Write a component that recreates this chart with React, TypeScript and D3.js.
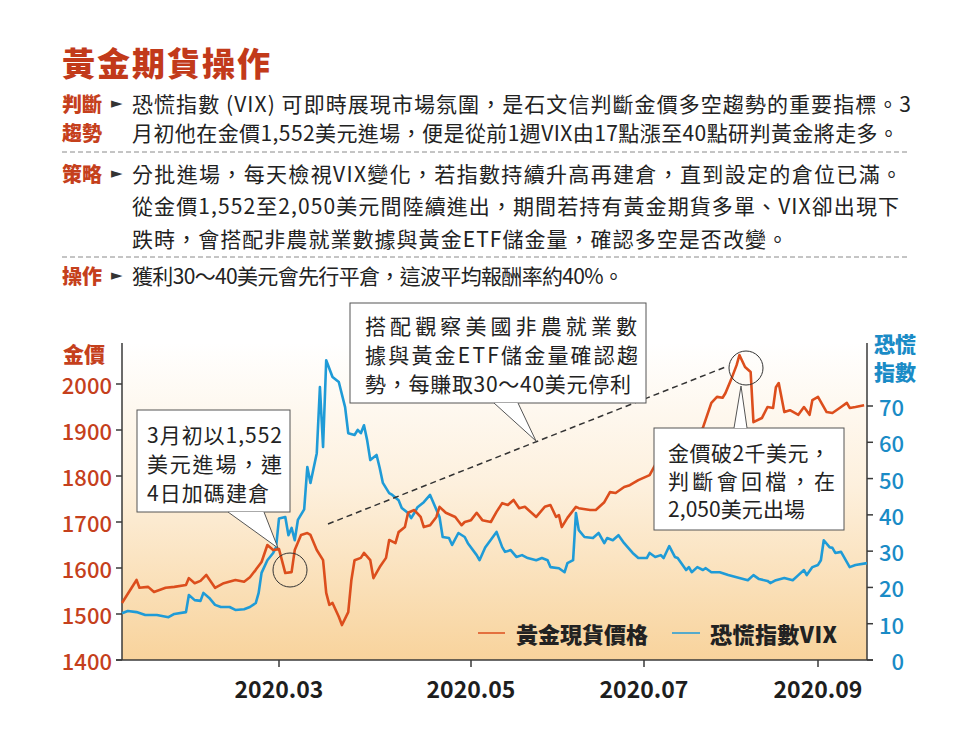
import React, { useRef, useEffect } from "react";
import * as d3 from "d3";

// gold spot price (USD)
const goldDates = [
  "01-07", "01-12", "01-13", "01-16", "01-18", "01-22", "01-25", "01-29", "01-30", "02-01",
  "02-03", "02-05", "02-08", "02-11", "02-15", "02-18", "02-20", "02-22", "02-24", "02-26",
  "02-28", "03-01", "03-03", "03-05", "03-06", "03-08", "03-10", "03-11", "03-13", "03-15",
  "03-16", "03-17", "03-18", "03-20", "03-21", "03-23", "03-24", "03-25", "03-27", "03-28",
  "03-30", "03-31", "04-02", "04-04", "04-05", "04-07", "04-08", "04-10", "04-11", "04-13",
  "04-15", "04-16", "04-18", "04-20", "04-21", "04-23", "04-26", "04-28", "04-29", "05-01",
  "05-03", "05-05", "05-08", "05-10", "05-12", "05-14", "05-16", "05-18", "05-20", "05-24",
  "05-27", "05-29", "05-31", "06-01", "06-02", "06-04", "06-07", "06-08", "06-12", "06-14",
  "06-17", "06-19", "06-21", "06-24", "06-26", "06-29", "07-03", "07-05", "07-08", "07-12",
  "07-15", "07-19", "07-22", "07-25", "07-27", "07-29", "07-30", "08-01", "08-03", "08-04",
  "08-06", "08-08", "08-09", "08-12", "08-14", "08-16", "08-17", "08-18", "08-20", "08-22",
  "08-25", "08-27", "08-29", "08-30", "09-01", "09-04", "09-06", "09-09", "09-11", "09-12",
  "09-14", "09-17",
];
const goldPrices = [
  1524, 1574, 1557, 1559, 1548, 1557, 1559, 1563, 1578, 1567,
  1572, 1585, 1557, 1567, 1574, 1570, 1580, 1596, 1613, 1650,
  1639, 1641, 1589, 1591, 1639, 1672, 1676, 1672, 1639, 1617,
  1546, 1520, 1524, 1494, 1476, 1504, 1574, 1617, 1622, 1633,
  1617, 1578, 1602, 1622, 1661, 1654, 1678, 1689, 1720, 1726,
  1711, 1689, 1693, 1711, 1733, 1720, 1711, 1693, 1700, 1704,
  1720, 1704, 1700, 1722, 1741, 1737, 1748, 1730, 1733, 1711,
  1733, 1737, 1711, 1715, 1689, 1709, 1733, 1730, 1726, 1726,
  1743, 1765, 1763, 1776, 1780, 1791, 1802, 1824, 1830, 1845,
  1852, 1870, 1905, 1959, 1972, 1970, 1980, 2009, 2041, 2063,
  2037, 2026, 1917, 1926, 1950, 1948, 1993, 2002, 1939, 1943,
  1933, 1950, 1933, 1965, 1972, 1939, 1937, 1950, 1959, 1948,
  1950, 1954,
];

// VIX index
const vixDates = [
  "01-07", "01-09", "01-12", "01-15", "01-19", "01-23", "01-25", "01-29", "01-30", "02-01",
  "02-03", "02-04", "02-06", "02-08", "02-10", "02-13", "02-15", "02-18", "02-20", "02-22",
  "02-23", "02-24", "02-26", "02-28", "02-29", "03-01", "03-03", "03-04", "03-05", "03-06",
  "03-07", "03-09", "03-10", "03-11", "03-13", "03-14", "03-15", "03-16", "03-18", "03-20",
  "03-22", "03-23", "03-25", "03-26", "03-27", "03-28", "03-29", "03-30", "04-01", "04-02",
  "04-03", "04-05", "04-06", "04-08", "04-09", "04-11", "04-12", "04-13", "04-14", "04-16",
  "04-18", "04-21", "04-22", "04-24", "04-25", "04-27", "04-29", "04-30", "05-03", "05-04",
  "05-06", "05-10", "05-12", "05-13", "05-15", "05-17", "05-19", "05-21", "05-24", "05-26",
  "05-28", "05-29", "06-01", "06-03", "06-04", "06-06", "06-07", "06-08", "06-10", "06-13",
  "06-15", "06-17", "06-18", "06-20", "06-22", "06-24", "06-27", "06-29", "07-02", "07-03",
  "07-05", "07-07", "07-08", "07-10", "07-12", "07-13", "07-16", "07-17", "07-18", "07-20",
  "07-22", "07-23", "07-25", "07-28", "07-31", "08-04", "08-07", "08-09", "08-11", "08-14",
  "08-15", "08-17", "08-20", "08-23", "08-25", "08-27", "08-28", "08-30", "09-01", "09-02",
  "09-03", "09-05", "09-06", "09-07", "09-09", "09-12", "09-14", "09-18",
];
const vixValues = [
  12.9, 13.5, 13.2, 12.4, 12.4, 11.8, 12.7, 13.2, 17.9, 16.5,
  16.3, 18.5, 17.1, 15.2, 14.6, 14.6, 13.8, 14.0, 14.6, 15.7,
  18.5, 24.0, 27.5, 29.5, 31.1, 39.0, 39.4, 34.4, 36.4, 33.0,
  38.6, 41.5, 53.2, 48.8, 57.0, 75.2, 58.7, 82.6, 78.0, 76.6,
  69.7, 62.5, 62.0, 63.4, 62.5, 64.7, 60.6, 55.1, 56.5, 52.9,
  48.8, 46.0, 45.5, 44.0, 41.9, 40.5, 39.1, 40.5, 42.1, 43.5,
  45.5, 39.4, 33.9, 33.6, 31.7, 35.0, 33.9, 32.2, 28.9, 27.5,
  31.0, 35.3, 31.1, 29.8, 30.3, 28.4, 28.9, 28.1, 27.5, 28.1,
  27.5, 25.6, 25.3, 24.2, 26.7, 27.5, 40.5, 35.8, 33.9, 33.6,
  35.0, 32.2, 33.6, 33.0, 34.4, 32.2, 29.5, 28.1, 28.1, 29.5,
  28.4, 28.9, 28.1, 31.4, 28.4, 28.1, 24.8, 25.6, 24.2, 25.6,
  24.8, 25.3, 24.2, 24.2, 23.4, 22.6, 22.0, 23.4, 22.3, 21.8,
  21.2, 22.0, 22.6, 22.0, 23.4, 24.8, 23.4, 25.6, 26.2, 27.5,
  33.0, 31.1, 30.9, 29.5, 29.8, 25.6, 26.2, 26.7,
];

const xTickDates = ["03-01", "05-01", "07-01", "09-01"];
const xTickLabels = ["2020.03", "2020.05", "2020.07", "2020.09"];
const goldTicks = [1400, 1500, 1600, 1700, 1800, 1900, 2000];
const vixTicks = [0, 10, 20, 30, 40, 50, 60, 70];

const title = "黃金期貨操作";
const rows = [
  { label: ["判斷", "趨勢"], lines: [
    "恐慌指數 (VIX) 可即時展現市場氛圍，是石文信判斷金價多空趨勢的重要指標。3",
    "月初他在金價1,552美元進場，便是從前1週VIX由17點漲至40點研判黃金將走多。",
  ] },
  { label: ["策略"], lines: [
    "分批進場，每天檢視VIX變化，若指數持續升高再建倉，直到設定的倉位已滿。",
    "從金價1,552至2,050美元間陸續進出，期間若持有黃金期貨多單、VIX卻出現下",
    "跌時，會搭配非農就業數據與黃金ETF儲金量，確認多空是否改變。",
  ] },
  { label: ["操作"], lines: ["獲利30～40美元會先行平倉，這波平均報酬率約40%。"] },
];
const note1 = ["3月初以1,552", "美元進場，連", "4日加碼建倉"];
const note2 = ["搭配觀察美國非農就業數", "據與黃金ETF儲金量確認趨", "勢，每賺取30～40美元停利"];
const note3 = ["金價破2千美元，", "判斷會回檔，在", "2,050美元出場"];
const legendNames = ["黃金現貨價格", "恐慌指數VIX"];

const FONT = '"Noto Sans CJK TC", "Noto Sans", sans-serif';
const RED = "#c5401c";
const GOLD = "#dc4e1d";
const BLUE = "#1f9bd7";
const BLUE_TXT = "#1a8bc6";

const parse = (s: string) => d3.timeParse("%Y-%m-%d")("2020-" + s) as Date;

const App: React.FC = () => {
  const svgRef = useRef<SVGSVGElement>(null);

  useEffect(() => {
    const svg = d3.select(svgRef.current);
    svg.selectAll("*").remove();

    const left = 122, right = 867, bottom = 660, top = 343;

    // x is a slightly uneven time axis in the original
    const x = d3
      .scaleTime()
      .domain(["01-07", "03-01", "05-01", "07-01", "09-01", "09-18"].map(parse))
      .range([left, 279, 471, 644, 818, right]);
    const yGold = d3.scaleLinear().domain([1400, 2000]).range([bottom, 384]);
    const yVix = d3.scaleLinear().domain([0, 70]).range([bottom, 406]);

    const defs = svg.append("defs");
    const grad = defs
      .append("linearGradient")
      .attr("id", "bgGrad")
      .attr("x1", 0).attr("y1", 0).attr("x2", 0).attr("y2", 1);
    grad.append("stop").attr("offset", "0%").attr("stop-color", "#ffffff");
    grad.append("stop").attr("offset", "45%").attr("stop-color", "#fdf0dd");
    grad.append("stop").attr("offset", "100%").attr("stop-color", "#f8d39c");

    const text = (
      g: any, tx: number, ty: number, str: string, size: number,
      fill = "#222", weight = "normal", anchor = "start", len?: number
    ) => {
      const t = g
        .append("text")
        .attr("x", tx)
        .attr("y", ty)
        .attr("font-family", FONT)
        .attr("font-size", size)
        .attr("font-weight", weight)
        .attr("fill", fill)
        .attr("text-anchor", anchor)
        .attr("dominant-baseline", "central")
        .text(str);
      if (len) t.attr("textLength", len);
      return t;
    };

    // header
    text(svg, 62, 62, title, 33, "#c23a1a", "900", "start", 208);

    const rowY = [[103, 132], [173, 205, 238], [275]];
    const rowLen = [[779, 767], [770, 767, 656], [492]];
    rows.forEach((r, i) => {
      r.label.forEach((l, j) => text(svg, 62, rowY[i][j], l, 20, RED, "900"));
      text(svg, 111, rowY[i][0], "►", 15, "#333", "normal").attr("font-family", "DejaVu Sans");
      r.lines.forEach((l, j) => text(svg, 132, rowY[i][j], l, 21, "#222", "normal", "start", rowLen[i][j]));
    });
    [152, 257].forEach((yy) =>
      svg.append("line")
        .attr("x1", 62).attr("x2", 910).attr("y1", yy).attr("y2", yy)
        .attr("stroke", "#8a8a8a").attr("stroke-width", 1).attr("stroke-dasharray", "5,3")
    );

    // plot background
    svg.append("rect")
      .attr("x", left).attr("y", top)
      .attr("width", right - left).attr("height", bottom - top)
      .attr("fill", "url(#bgGrad)");

    // axes
    const axisColor = "#3a3a3a";
    svg.append("line").attr("x1", left).attr("x2", left).attr("y1", top).attr("y2", bottom)
      .attr("stroke", axisColor).attr("stroke-width", 1.5);
    svg.append("line").attr("x1", right).attr("x2", right).attr("y1", top).attr("y2", bottom)
      .attr("stroke", axisColor).attr("stroke-width", 1.5);
    svg.append("line").attr("x1", left - 6).attr("x2", right + 6).attr("y1", bottom).attr("y2", bottom)
      .attr("stroke", axisColor).attr("stroke-width", 1.5);

    goldTicks.forEach((v) => {
      svg.append("line").attr("x1", left - 6).attr("x2", left).attr("y1", yGold(v)).attr("y2", yGold(v))
        .attr("stroke", axisColor).attr("stroke-width", 1.5);
      text(svg, 112, yGold(v), String(v), 22, RED, "500", "end");
    });
    vixTicks.forEach((v) => {
      svg.append("line").attr("x1", right).attr("x2", right + 6).attr("y1", yVix(v)).attr("y2", yVix(v))
        .attr("stroke", axisColor).attr("stroke-width", 1.5);
      text(svg, 904, yVix(v), String(v), 22, BLUE_TXT, "500", "end");
    });
    xTickDates.forEach((d, i) => {
      const px = x(parse(d));
      svg.append("line").attr("x1", px).attr("x2", px).attr("y1", bottom).attr("y2", bottom + 7)
        .attr("stroke", axisColor).attr("stroke-width", 1.5);
      text(svg, px, 688, xTickLabels[i], 23, "#1e1e1e", "bold", "middle");
    });

    text(svg, 63, 353, "金價", 21, RED, "900");
    text(svg, 874, 343, "恐慌", 21, BLUE_TXT, "900");
    text(svg, 874, 371, "指數", 21, BLUE_TXT, "900");

    // series
    const vixLine = d3.line<number>()
      .x((_, i) => x(parse(vixDates[i])))
      .y((d) => yVix(d));
    const goldLine = d3.line<number>()
      .x((_, i) => x(parse(goldDates[i])))
      .y((d) => yGold(d));

    svg.append("path").datum(vixValues).attr("d", vixLine)
      .attr("fill", "none").attr("stroke", BLUE).attr("stroke-width", 2.6).attr("stroke-linejoin", "round");
    svg.append("path").datum(goldPrices).attr("d", goldLine)
      .attr("fill", "none").attr("stroke", GOLD).attr("stroke-width", 2.6).attr("stroke-linejoin", "round");

    // trend line from the entry to the peak
    svg.append("line")
      .attr("x1", 328).attr("y1", 524).attr("x2", 728).attr("y2", 366)
      .attr("stroke", "#333").attr("stroke-width", 1.5).attr("stroke-dasharray", "6,4");

    // circles
    [[290, 570], [746, 368]].forEach(([cx, cy]) =>
      svg.append("circle").attr("cx", cx).attr("cy", cy).attr("r", 17)
        .attr("fill", "none").attr("stroke", "#333").attr("stroke-width", 1)
    );

    const callout = (
      bx: number, by: number, bw: number, bh: number,
      base: [number, number], baseY: number, tip: [number, number]
    ) => {
      svg.append("rect").attr("x", bx).attr("y", by).attr("width", bw).attr("height", bh)
        .attr("fill", "#fff").attr("stroke", "#555").attr("stroke-width", 1);
      svg.append("path")
        .attr("d", `M${base[0]},${baseY}L${tip[0]},${tip[1]}L${base[1]},${baseY}Z`)
        .attr("fill", "#fff").attr("stroke", "none");
      svg.append("path")
        .attr("d", `M${base[0]},${baseY}L${tip[0]},${tip[1]}L${base[1]},${baseY}`)
        .attr("fill", "none").attr("stroke", "#555").attr("stroke-width", 1);
    };

    callout(137, 410, 153, 102, [228, 264], 512, [278, 548]);
    [434, 463, 492].forEach((yy, i) => text(svg, 147, yy, note1[i], 21, "#222", "normal", "start",
      [135, 135, 122][i]));

    callout(350, 303, 296, 100, [494, 518], 403, [536, 441]);
    [325, 354, 383].forEach((yy, i) => text(svg, 365, yy, note2[i], 21, "#222", "normal", "start",
      [272, 273, 266][i]));

    callout(654, 428, 190, 102, [734, 747], 428, [741, 386]);
    [452, 480, 508].forEach((yy, i) => text(svg, 668, yy, note3[i], 21, "#222", "normal", "start",
      [162, 167, 137][i]));

    // legend
    svg.append("line").attr("x1", 478).attr("x2", 505).attr("y1", 633).attr("y2", 633)
      .attr("stroke", GOLD).attr("stroke-width", 1.5);
    text(svg, 516, 633, legendNames[0], 22, "#222", "900");
    svg.append("line").attr("x1", 672).attr("x2", 700).attr("y1", 633).attr("y2", 633)
      .attr("stroke", BLUE).attr("stroke-width", 1.5);
    text(svg, 710, 633, legendNames[1], 22, "#222", "900", "start", 127);
  }, []);

  return (
    <svg
      ref={svgRef}
      width={959}
      height={730}
      style={{ position: "absolute", left: 0, top: 0, background: "#fff" }}
    ></svg>
  );
};

export default App;
